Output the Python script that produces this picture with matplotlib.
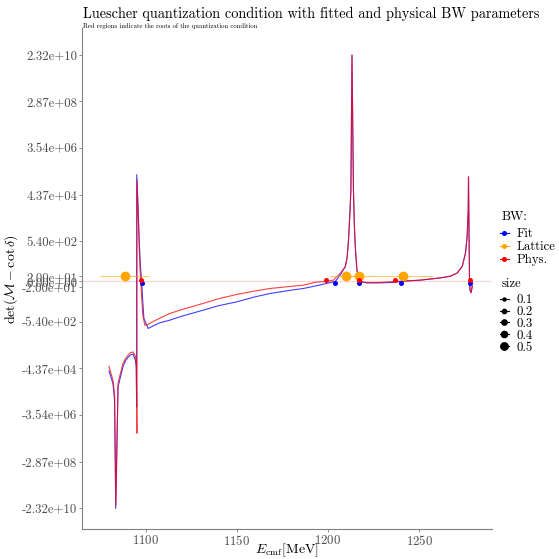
import numpy as np
import matplotlib
matplotlib.use('Agg')
import matplotlib.pyplot as plt
from matplotlib.lines import Line2D
from matplotlib.ticker import NullLocator

plt.rcParams['font.family'] = 'serif'
plt.rcParams['font.serif'] = ['cmr10']
plt.rcParams['mathtext.fontset'] = 'cm'
plt.rcParams['axes.unicode_minus'] = False
plt.rcParams['axes.formatter.use_mathtext'] = True

# ---------------------------------------------------
# data
# ---------------------------------------------------

# physical BW parameters (red curve)
red_E = [1079.8, 1082.0, 1082.9, 1083.6, 1084.8, 1085.7, 1087.5, 1088.9, 1090.3, 1091.6,
         1093.0, 1094.3, 1094.8, 1095.15, 1095.2, 1095.9, 1096.4, 1096.9, 1097.25, 1097.8,
         1098.4, 1099.5, 1100.3, 1101.3, 1103.5, 1107.7, 1113.2, 1120.0, 1131.5, 1140.0,
         1149.9, 1160.0, 1168.2, 1178.0, 1186.5, 1193.0, 1199.0, 1203.0, 1206.7, 1209.5,
         1210.5, 1211.3, 1212.0, 1212.6, 1213.2, 1214.0, 1214.5, 1215.0, 1215.9, 1216.8,
         1217.3, 1221.4, 1228.7, 1236.9, 1250.7, 1261.7, 1267.2, 1270.9, 1273.7, 1275.5,
         1276.4, 1277.0, 1277.15, 1277.7, 1278.0, 1278.6, 1279.2]
red_y = [-3.6e4, -1.34e5, -5.5e5, -1.76e10, -1.78e5, -9.2e4, -2.79e4, -1.73e4, -1.27e4, -1.01e4,
         -9.4e3, -1.4e4, -3.0e4, -2.0e7, 1.78e5, 5.0e3, 300, 35, 0, -60,
         -300, -752, -730, -700, -560, -390, -250, -171, -97, -62,
         -41.7, -30, -23.7, -20, -17.4, -8, 0, 12, 26, 49,
         112, 611, 6.4e3, 6.8e4, 2.3e10, 6.8e4, 2.5e3, 324, 36, 16.5,
         0, -12, -10, 0, 13, 17, 20, 27, 50, 178,
         850, 1.05e4, 2.4e5, 0, -28, -35, -19]

# fitted BW parameters (blue curve)
blue_E = [1079.8, 1082.0, 1082.9, 1083.5, 1084.8, 1085.7, 1087.5, 1088.9, 1090.3, 1091.6,
          1093.0, 1094.3, 1094.8, 1095.0, 1095.05, 1095.9, 1096.5, 1097.1, 1097.8, 1098.3,
          1099.0, 1101.3, 1103.5, 1107.7, 1113.2, 1120.0, 1131.5, 1140.0, 1149.9, 1160.0,
          1168.2, 1178.0, 1186.5, 1195.7, 1204.0, 1206.7, 1209.5, 1210.5, 1211.3, 1212.0,
          1212.6, 1213.2, 1214.0, 1214.5, 1215.0, 1215.9, 1216.8, 1217.3, 1221.4, 1228.7,
          1235.0, 1240.1, 1250.7, 1261.7, 1267.2, 1270.9, 1273.7, 1275.5, 1276.4, 1277.0,
          1277.15, 1277.7, 1278.0, 1278.6, 1279.2]
blue_y = [-5.6e4, -1.83e5, -8.9e5, -2.4e10, -2.5e5, -1.34e5, -3.77e4, -2.1e4, -1.57e4, -1.25e4,
          -1.16e4, -2.04e4, -4.0e4, -1.7e6, 2.85e5, 8.0e3, 400, 50, 0, -70,
          -400, -1030, -850, -600, -470, -320, -183, -120, -83.8, -52,
          -38, -29, -23.7, -17, 0, 22, 49, 112, 611, 6.4e3,
          6.8e4, 2.2e10, 6.8e4, 2.5e3, 324, 36, 16.5, 0, -14, -14,
          -10, 0, 12, 17, 20, 27, 50, 178, 850, 1.05e4,
          2.2e5, 0, -28, -35, -19]

# roots of the quantization condition
red_root_E = [1097.25, 1199.0, 1217.3, 1236.9, 1277.7]
red_root_y = [14, 14, 14, 14, 14]
blue_root_E = [1097.8, 1204.0, 1217.3, 1240.1, 1277.7]
blue_root_y = [-14, -14, -14, -14, -14]

# lattice levels
lat_E = [1088.4, 1209.8, 1216.8, 1241.0]
lat_err = [13.6, 8.6, 8.2, 16.7]
lat_y = [20, 20, 20, 20]

ytick_vals = [-2.32e10, -2.87e8, -3.54e6, -4.37e4, -540, -20, 0,
              20, 540, 4.37e4, 3.54e6, 2.87e8, 2.32e10]
xtick_vals = [1100, 1150, 1200, 1250]
size_levels = ['0.1', '0.2', '0.3', '0.4', '0.5']

# ---------------------------------------------------
# plot
# ---------------------------------------------------
fig = plt.figure(figsize=(5.59, 5.59), dpi=100)
ax = fig.add_axes([0.146, 0.053, 0.734, 0.897])
ax.set_yscale('symlog', linthresh=14, linscale=0.054)

ax.axhline(0, color='#ff6070', alpha=0.3, lw=0.8)
ax.plot(blue_E, blue_y, color='blue', lw=0.8, alpha=0.75)
ax.plot(red_E, red_y, color='red', lw=0.8, alpha=0.75)
ax.errorbar(lat_E, lat_y, xerr=lat_err, fmt='none', ecolor='orange', alpha=0.6,
            elinewidth=0.8, capsize=0)
ax.plot(lat_E, lat_y, 'o', color='orange', ms=7, mew=0)
ax.plot(blue_root_E, blue_root_y, 'o', color='blue', ms=3.6, mew=0)
ax.plot(red_root_E, red_root_y, 'o', color='red', ms=3.6, mew=0)

ax.set_xlim(1064.8, 1290)
ax.set_ylim(-1.72e11, 2.9e11)
ax.set_yticks(ytick_vals)
ax.set_yticklabels([f'{v:.2e}' for v in ytick_vals])
ax.yaxis.set_minor_locator(NullLocator())
ax.set_xticks(xtick_vals)

for s in ['top', 'right']:
    ax.spines[s].set_visible(False)
for s in ['left', 'bottom']:
    ax.spines[s].set_color('#7f7f7f')
    ax.spines[s].set_linewidth(0.8)
ax.tick_params(length=2.2, width=0.6, color='#7f7f7f', labelcolor='#4d4d4d',
               labelsize=9.2, pad=1)

ax.set_xlabel(r'$E_{\mathrm{cmf}}[\mathrm{MeV}]$', fontsize=10)
ax.xaxis.set_label_coords(0.5, -0.024)
ax.set_ylabel(r'$\det(\mathcal{M} - \cot\delta)$', fontsize=10)
ax.yaxis.set_label_coords(-0.15, 0.5)

fig.text(0.148, 1 - 14 / 559, 'Luescher quantization condition with fitted and physical BW parameters',
         fontsize=10.25, ha='left', va='center')
fig.text(0.148, 1 - 26 / 559, 'Red regions indicate the roots of the quantization condition',
         fontsize=4.8, ha='left', va='center')

# legends: titles as separate texts so the gap below them matches
fig.text(502 / 559, 1 - 216.5 / 559, 'BW:', fontsize=9.2, ha='left', va='center')
bw_handles = [Line2D([], [], color=c, marker='o', ms=2.6, lw=0.8)
              for c in ['blue', 'orange', 'red']]
leg1 = fig.legend(bw_handles, ['Fit', 'Lattice', 'Phys.'],
                  loc='upper left', bbox_to_anchor=(500 / 559, 1 - 228 / 559),
                  frameon=False, fontsize=9.2,
                  borderpad=0, borderaxespad=0, handlelength=0.7, handletextpad=0.6,
                  labelspacing=0.08)

fig.text(502 / 559, 1 - 284 / 559, 'size', fontsize=9.2, ha='left', va='center')
size_handles = [Line2D([], [], color='black', marker='o', ms=m, lw=0.8)
                for m in [2.2, 3.1, 3.8, 4.5, 5.3]]
leg2 = fig.legend(size_handles, size_levels,
                  loc='upper left', bbox_to_anchor=(500 / 559, 1 - 294 / 559),
                  frameon=False, fontsize=9.2,
                  borderpad=0, borderaxespad=0, handlelength=0.7, handletextpad=0.6,
                  labelspacing=-0.02)

fig.savefig('out.png', dpi=100)
